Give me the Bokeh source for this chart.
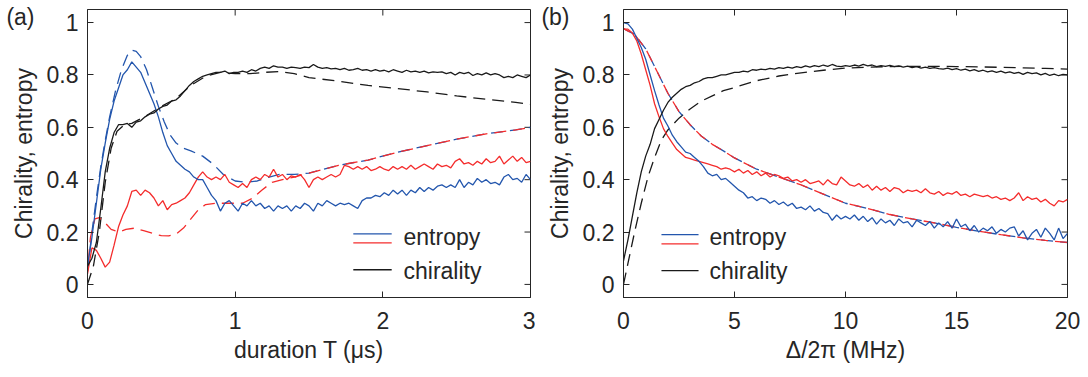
from bokeh.plotting import figure
from bokeh.models import Range1d, LinearAxis, FixedTicker
from bokeh.layouts import row
from bokeh.embed import file_html
from bokeh.resources import INLINE
from bokeh.core.properties import value

FONT = "Liberation Sans"
AX = "#262626"
BLUE = "#2356ad"
RED = "#f42c2c"
BLACK = "#1a1a1a"
FS = "23px"

# ---------------- panel (a): duration T (us) ----------------
T_A = [0.00, 0.03, 0.06, 0.09, 0.12, 0.15, 0.18, 0.21, 0.24, 0.27,
       0.30, 0.33, 0.36, 0.39, 0.42, 0.45, 0.48, 0.51, 0.54, 0.57,
       0.60, 0.63, 0.66, 0.69, 0.72, 0.75, 0.78, 0.81, 0.84, 0.87,
       0.90, 0.93, 0.96, 0.99, 1.02, 1.05, 1.08, 1.11, 1.14, 1.17,
       1.20, 1.23, 1.26, 1.29, 1.32, 1.35, 1.38, 1.41, 1.44, 1.47,
       1.50, 1.53, 1.56, 1.59, 1.62, 1.65, 1.68, 1.71, 1.74, 1.77,
       1.80, 1.83, 1.86, 1.89, 1.92, 1.95, 1.98, 2.01, 2.04, 2.07,
       2.10, 2.13, 2.16, 2.19, 2.22, 2.25, 2.28, 2.31, 2.34, 2.37,
       2.40, 2.43, 2.46, 2.49, 2.52, 2.55, 2.58, 2.61, 2.64, 2.67,
       2.70, 2.73, 2.76, 2.79, 2.82, 2.85, 2.88, 2.91, 2.94, 2.97,
       3.00]

ENT_BLUE_A = [0.07, 0.18, 0.31, 0.44, 0.54, 0.63, 0.70, 0.75, 0.80, 0.82,
              0.85, 0.83, 0.81, 0.77, 0.73, 0.69, 0.64, 0.58, 0.53, 0.50,
              0.47, 0.455, 0.44, 0.43, 0.41, 0.40, 0.40, 0.37, 0.34, 0.32,
              0.28, 0.31, 0.32, 0.30, 0.28, 0.31, 0.30, 0.32, 0.30, 0.31,
              0.29, 0.30, 0.28, 0.30, 0.29, 0.30, 0.28, 0.30, 0.29, 0.31,
              0.30, 0.28, 0.31, 0.30, 0.32, 0.31, 0.30, 0.31, 0.305, 0.31,
              0.30, 0.29, 0.32, 0.33, 0.33, 0.34, 0.335, 0.35, 0.34, 0.36,
              0.345, 0.36, 0.34, 0.36, 0.35, 0.37, 0.355, 0.37, 0.36, 0.375,
              0.38, 0.37, 0.38, 0.37, 0.40, 0.37, 0.39, 0.38, 0.405, 0.39,
              0.40, 0.385, 0.39, 0.38, 0.41, 0.42, 0.40, 0.405, 0.39, 0.42,
              0.40]

ENT_RED_A = [0.04, 0.14, 0.13, 0.10, 0.066, 0.085, 0.15, 0.22, 0.265, 0.30,
             0.355, 0.36, 0.34, 0.36, 0.35, 0.33, 0.30, 0.32, 0.285, 0.305,
             0.31, 0.32, 0.33, 0.35, 0.38, 0.41, 0.43, 0.41, 0.40, 0.41,
             0.40, 0.42, 0.39, 0.38, 0.37, 0.385, 0.37, 0.40, 0.41, 0.40,
             0.42, 0.41, 0.44, 0.41, 0.42, 0.40, 0.415, 0.41, 0.42, 0.40,
             0.37, 0.40, 0.41, 0.40, 0.41, 0.42, 0.41, 0.42, 0.455, 0.45,
             0.44, 0.45, 0.44, 0.45, 0.435, 0.44, 0.45, 0.44, 0.435, 0.45,
             0.44, 0.45, 0.44, 0.455, 0.44, 0.45, 0.46, 0.45, 0.44, 0.46,
             0.45, 0.455, 0.445, 0.47, 0.48, 0.46, 0.465, 0.455, 0.47, 0.46,
             0.48, 0.465, 0.47, 0.49, 0.46, 0.475, 0.49, 0.47, 0.485, 0.465,
             0.47]

CHI_A = [0.07, 0.10, 0.16, 0.29, 0.43, 0.52, 0.58, 0.61, 0.61, 0.615,
         0.60, 0.62, 0.625, 0.64, 0.65, 0.655, 0.67, 0.68, 0.685, 0.70,
         0.705, 0.72, 0.74, 0.76, 0.775, 0.785, 0.795, 0.80, 0.805, 0.81,
         0.81, 0.815, 0.805, 0.81, 0.81, 0.815, 0.81, 0.82, 0.815, 0.825,
         0.83, 0.825, 0.835, 0.83, 0.83, 0.825, 0.83, 0.828, 0.825, 0.83,
         0.828, 0.84, 0.83, 0.825, 0.828, 0.823, 0.825, 0.82, 0.825, 0.818,
         0.82, 0.825, 0.818, 0.82, 0.815, 0.82, 0.815, 0.818, 0.812, 0.82,
         0.815, 0.81, 0.818, 0.812, 0.815, 0.81, 0.815, 0.808, 0.812, 0.81,
         0.812, 0.805, 0.81, 0.80, 0.81, 0.805, 0.81, 0.798, 0.805, 0.80,
         0.808, 0.80, 0.805, 0.80, 0.79, 0.795, 0.79, 0.80, 0.795, 0.79,
         0.80]

# model (dashed) curves, panel (a)
T_BLUE_MODEL_A = [0.0, 0.03, 0.06, 0.09, 0.12, 0.15, 0.19, 0.23, 0.27, 0.30,
                  0.33, 0.36, 0.40, 0.44, 0.48, 0.52, 0.56, 0.60, 0.65, 0.70,
                  0.78, 0.85, 0.92, 1.0, 1.08, 1.15, 1.23, 1.3, 1.4, 1.5,
                  1.7, 1.9, 2.1, 2.3, 2.5, 2.7, 2.9, 3.0]
BLUE_MODEL_A = [0.05, 0.20, 0.33, 0.45, 0.55, 0.64, 0.74, 0.82, 0.875, 0.895,
                0.89, 0.87, 0.82, 0.75, 0.68, 0.62, 0.57, 0.54, 0.52, 0.51,
                0.49, 0.46, 0.42, 0.395, 0.39, 0.395, 0.41, 0.42, 0.42, 0.425,
                0.455, 0.475, 0.505, 0.53, 0.555, 0.575, 0.59, 0.60]

T_RED_MODEL_A = [0.0, 0.02, 0.05, 0.08, 0.12, 0.16, 0.21, 0.26, 0.32, 0.38,
                 0.44, 0.50, 0.55, 0.60, 0.65, 0.70, 0.75, 0.80, 0.87, 0.95,
                 1.05, 1.12, 1.18, 1.25, 1.32, 1.4, 1.5,
                 1.7, 1.9, 2.1, 2.3, 2.5, 2.7, 2.9, 3.0]
RED_MODEL_A = [0.05, 0.18, 0.25, 0.255, 0.235, 0.21, 0.20, 0.21, 0.215, 0.205,
               0.195, 0.186, 0.185, 0.192, 0.215, 0.25, 0.285, 0.305, 0.31, 0.31,
               0.31, 0.33, 0.36, 0.39, 0.40, 0.41, 0.425,
               0.455, 0.475, 0.505, 0.53, 0.555, 0.575, 0.59, 0.60]

T_CHI_MODEL_A = [0.0, 0.04, 0.08, 0.12, 0.16, 0.2, 0.25, 0.3, 0.4, 0.5,
                 0.6, 0.7, 0.8, 0.9, 1.0, 1.1, 1.2, 1.3, 1.4, 1.5,
                 1.7, 1.9, 2.1, 2.3, 2.5, 2.7, 2.9, 3.0]
CHI_MODEL_A = [0.0, 0.07, 0.2, 0.39, 0.52, 0.585, 0.61, 0.615, 0.645, 0.68,
               0.71, 0.76, 0.795, 0.81, 0.805, 0.805, 0.81, 0.813, 0.805, 0.79,
               0.776, 0.76, 0.748, 0.735, 0.72, 0.707, 0.695, 0.687]

# ---------------- panel (b): Delta/2pi (MHz) ----------------
D_B = [0.0, 0.2, 0.4, 0.6, 0.8, 1.0, 1.2, 1.4, 1.6, 1.8,
       2.0, 2.2, 2.4, 2.6, 2.8, 3.0, 3.2, 3.4, 3.6, 3.8,
       4.0, 4.2, 4.4, 4.6, 4.8, 5.0, 5.2, 5.4, 5.6, 5.8,
       6.0, 6.2, 6.4, 6.6, 6.8, 7.0, 7.2, 7.4, 7.6, 7.8,
       8.0, 8.2, 8.4, 8.6, 8.8, 9.0, 9.2, 9.4, 9.6, 9.8,
       10.0, 10.2, 10.4, 10.6, 10.8, 11.0, 11.2, 11.4, 11.6, 11.8,
       12.0, 12.2, 12.4, 12.6, 12.8, 13.0, 13.2, 13.4, 13.6, 13.8,
       14.0, 14.2, 14.4, 14.6, 14.8, 15.0, 15.2, 15.4, 15.6, 15.8,
       16.0, 16.2, 16.4, 16.6, 16.8, 17.0, 17.2, 17.4, 17.6, 17.8,
       18.0, 18.2, 18.4, 18.6, 18.8, 19.0, 19.2, 19.4, 19.6, 19.8,
       20.0]

ENT_BLUE_B = [1.0, 0.995, 0.975, 0.94, 0.905, 0.86, 0.80, 0.74, 0.685, 0.635,
              0.605, 0.57, 0.545, 0.525, 0.505, 0.50, 0.485, 0.47, 0.45, 0.425,
              0.415, 0.42, 0.40, 0.405, 0.39, 0.375, 0.36, 0.35, 0.33, 0.335,
              0.32, 0.33, 0.325, 0.31, 0.32, 0.305, 0.315, 0.30, 0.31, 0.29,
              0.295, 0.285, 0.30, 0.28, 0.29, 0.275, 0.27, 0.245, 0.265, 0.25,
              0.26, 0.25, 0.265, 0.245, 0.26, 0.24, 0.255, 0.23, 0.25, 0.235,
              0.245, 0.225, 0.25, 0.235, 0.24, 0.22, 0.245, 0.235, 0.225, 0.24,
              0.215, 0.235, 0.22, 0.24, 0.215, 0.25, 0.22, 0.23, 0.205, 0.225,
              0.20, 0.215, 0.205, 0.22, 0.195, 0.21, 0.20, 0.215, 0.22, 0.185,
              0.205, 0.17, 0.195, 0.21, 0.18, 0.215, 0.195, 0.17, 0.215, 0.175,
              0.195]

ENT_RED_B = [0.975, 0.975, 0.96, 0.93, 0.88, 0.82, 0.76, 0.69, 0.64, 0.595,
             0.565, 0.54, 0.515, 0.50, 0.485, 0.48, 0.475, 0.47, 0.465, 0.46,
             0.455, 0.45, 0.44, 0.445, 0.44, 0.43, 0.44, 0.425, 0.435, 0.42,
             0.43, 0.415, 0.425, 0.41, 0.42, 0.415, 0.405, 0.41, 0.395, 0.40,
             0.39, 0.40, 0.385, 0.39, 0.395, 0.38, 0.40, 0.385, 0.38, 0.41,
             0.395, 0.38, 0.375, 0.385, 0.37, 0.38, 0.36, 0.375, 0.36, 0.37,
             0.355, 0.37, 0.365, 0.35, 0.36, 0.355, 0.36, 0.35, 0.365, 0.35,
             0.345, 0.355, 0.34, 0.35, 0.345, 0.355, 0.34, 0.345, 0.335, 0.345,
             0.34, 0.335, 0.34, 0.33, 0.335, 0.325, 0.33, 0.32, 0.33, 0.35,
             0.32, 0.335, 0.325, 0.33, 0.315, 0.325, 0.31, 0.30, 0.32, 0.315,
             0.325]

CHI_B = [0.09, 0.17, 0.26, 0.35, 0.43, 0.49, 0.535, 0.595, 0.63, 0.665,
         0.695, 0.715, 0.73, 0.745, 0.755, 0.76, 0.77, 0.775, 0.785, 0.79,
         0.79, 0.795, 0.80, 0.80, 0.805, 0.81, 0.81, 0.815, 0.812, 0.82,
         0.818, 0.822, 0.82, 0.825, 0.822, 0.828, 0.825, 0.83, 0.826, 0.832,
         0.828, 0.835, 0.83, 0.836, 0.832, 0.838, 0.833, 0.84, 0.834, 0.832,
         0.836, 0.833, 0.838, 0.834, 0.84, 0.835, 0.838, 0.832, 0.836, 0.833,
         0.837, 0.832, 0.835, 0.83, 0.834, 0.828, 0.832, 0.826, 0.83, 0.825,
         0.828, 0.824, 0.822, 0.826, 0.82, 0.824, 0.818, 0.822, 0.816, 0.82,
         0.814, 0.818, 0.812, 0.816, 0.81, 0.815, 0.808, 0.812, 0.806, 0.81,
         0.802, 0.81, 0.805, 0.808, 0.80, 0.806, 0.798, 0.803, 0.797, 0.802,
         0.80]

D_ENT_MODEL_B = [0.0, 0.5, 1.0, 1.5, 2.0, 2.5, 3.0, 3.5, 4.0, 4.5,
                 5.0, 6.0, 7.0, 8.0, 9.0, 10.0, 11.0, 12.0, 13.0, 14.0,
                 15.0, 16.0, 17.0, 18.0, 19.0, 20.0]
ENT_MODEL_B = [0.977, 0.955, 0.90, 0.815, 0.73, 0.66, 0.61, 0.567, 0.535, 0.51,
               0.483, 0.44, 0.41, 0.38, 0.345, 0.31, 0.29, 0.267, 0.25, 0.235,
               0.218, 0.203, 0.19, 0.178, 0.168, 0.16]

D_CHI_MODEL_B = [0.0, 0.2, 0.5, 0.8, 1.1, 1.4, 1.7, 2.0, 2.5, 3.0,
                 3.5, 4.0, 4.5, 5.0, 6.0, 7.0, 8.0, 9.0, 10.0, 11.0,
                 12.0, 13.0, 14.0, 15.0, 16.0, 17.0, 18.0, 19.0, 20.0]
CHI_MODEL_B = [0.0, 0.08, 0.2, 0.31, 0.41, 0.485, 0.55, 0.59, 0.635, 0.67,
               0.70, 0.72, 0.74, 0.752, 0.778, 0.796, 0.808, 0.818, 0.826, 0.83,
               0.832, 0.833, 0.833, 0.832, 0.831, 0.829, 0.827, 0.825, 0.822]

Y_TICKS = [0, 0.2, 0.4, 0.6, 0.8, 1]
X_TICKS_A = [0, 1, 2, 3]
X_TICKS_B = [0, 5, 10, 15, 20]
LEGEND_LABELS = ["entropy", "chirality"]
Y_RANGE = (-0.05, 1.05)

FRAME_H = 288           # px
TICK_LEN = 6            # px
LW = 1.3
DASH = "12 7"


def style_axis(ax, ticks):
    ax.ticker = FixedTicker(ticks=ticks)
    ax.axis_line_color = AX
    ax.axis_line_width = 1
    ax.major_tick_line_color = AX
    ax.major_tick_line_width = 1
    ax.major_tick_in = TICK_LEN
    ax.major_tick_out = 0
    ax.minor_tick_line_color = None
    ax.major_label_text_font = FONT
    ax.major_label_text_color = AX
    ax.major_label_text_font_size = FS
    ax.axis_label_text_font = FONT
    ax.axis_label_text_font_style = "normal"
    ax.axis_label_text_color = AX
    ax.axis_label_text_font_size = FS


def make_fig(width, xr, xticks, xlabel, bl, br, panel_tag, tag_standoff):
    frame_w = width - bl - br
    p = figure(width=width, height=377, x_range=Range1d(*xr), y_range=Range1d(*Y_RANGE),
               output_backend="svg", toolbar_location=None,
               min_border_left=bl, min_border_right=br, min_border_top=9, min_border_bottom=80)
    p.grid.visible = False
    p.outline_line_color = AX
    p.outline_line_width = 1
    p.background_fill_color = "white"
    p.border_fill_color = "white"
    for ax in p.below:
        style_axis(ax, xticks)
        ax.axis_label = xlabel
        ax.major_label_standoff = 14
        ax.axis_label_standoff = 5
    for ax in p.left:
        style_axis(ax, Y_TICKS)
        ax.axis_label = "Chirality, entropy"
        ax.major_label_standoff = 9
        ax.axis_label_standoff = 7
        ax.major_label_overrides = {0: "0", 1: "1"}
    # panel tag "(a)"/"(b)" as an outer, line-less axis label
    tag_y = 1.02
    tag_axis = LinearAxis(ticker=FixedTicker(ticks=[tag_y]),
                          major_label_overrides={tag_y: panel_tag})
    tag_axis.axis_line_color = None
    tag_axis.major_tick_line_color = None
    tag_axis.minor_tick_line_color = None
    tag_axis.major_tick_in = 0
    tag_axis.major_tick_out = 0
    tag_axis.major_label_standoff = tag_standoff
    tag_axis.major_label_text_font = FONT
    tag_axis.major_label_text_font_size = FS
    tag_axis.major_label_text_color = AX
    p.add_layout(tag_axis, "left")

    # inward ticks on the top and right edges of the box
    dy = TICK_LEN * (Y_RANGE[1] - Y_RANGE[0]) / FRAME_H
    dx = TICK_LEN * (xr[1] - xr[0]) / frame_w
    p.segment(x0=xticks, x1=xticks, y0=[Y_RANGE[1]] * len(xticks),
              y1=[Y_RANGE[1] - dy] * len(xticks), line_color=AX, line_width=1)
    p.segment(x0=[xr[1]] * len(Y_TICKS), x1=[xr[1] - dx] * len(Y_TICKS),
              y0=Y_TICKS, y1=Y_TICKS, line_color=AX, line_width=1)
    return p


# ---- panel (a)
pa = make_fig(535, (0, 3), X_TICKS_A, "duration T (\u03bcs)", 87, 5, "(a)", -27)
pa.line(T_CHI_MODEL_A, CHI_MODEL_A, line_color=BLACK, line_width=LW, line_dash=DASH)
pa.line(T_BLUE_MODEL_A, BLUE_MODEL_A, line_color=BLUE, line_width=LW, line_dash=DASH)
pa.line(T_RED_MODEL_A, RED_MODEL_A, line_color=RED, line_width=LW, line_dash=DASH, line_dash_offset=9)
pa.line(T_A, ENT_RED_A, line_color=RED, line_width=LW)
pa.line(T_A, ENT_BLUE_A, line_color=BLUE, line_width=LW)
pa.line(T_A, CHI_A, line_color=BLACK, line_width=LW)

pa.segment(x0=[1.80, 1.80, 1.80], x1=[2.06, 2.06, 2.06], y0=[0.193, 0.159, 0.056],
           y1=[0.193, 0.159, 0.056], line_color=[BLUE, RED, BLACK], line_width=LW)
pa.text(x=[2.14, 2.14], y=[0.18, 0.05], text=LEGEND_LABELS, text_font=value(FONT),
        text_font_size=value(FS), text_baseline="middle", text_align="left", text_color=AX)

# ---- panel (b)
pb = make_fig(553, (0, 20), X_TICKS_B, "\u0394/2\u03c0 (MHz)", 88, 21, "(b)", -26)
pb.line(D_CHI_MODEL_B, CHI_MODEL_B, line_color=BLACK, line_width=LW, line_dash=DASH)
pb.line(D_ENT_MODEL_B, ENT_MODEL_B, line_color=BLUE, line_width=LW, line_dash=DASH)
pb.line(D_ENT_MODEL_B, ENT_MODEL_B, line_color=RED, line_width=LW, line_dash=DASH, line_dash_offset=5)
pb.line(D_B, ENT_RED_B, line_color=RED, line_width=LW)
pb.line(D_B, ENT_BLUE_B, line_color=BLUE, line_width=LW)
pb.line(D_B, CHI_B, line_color=BLACK, line_width=LW)

pb.segment(x0=[1.71, 1.71, 1.71], x1=[3.38, 3.38, 3.38], y0=[0.19, 0.155, 0.053],
           y1=[0.19, 0.155, 0.053], line_color=[BLUE, RED, BLACK], line_width=LW)
pb.text(x=[3.87, 3.87], y=[0.18, 0.05], text=LEGEND_LABELS, text_font=value(FONT),
        text_font_size=value(FS), text_baseline="middle", text_align="left", text_color=AX)

layout = row(pa, pb)
open("out.html", "w").write(file_html(layout, INLINE))
